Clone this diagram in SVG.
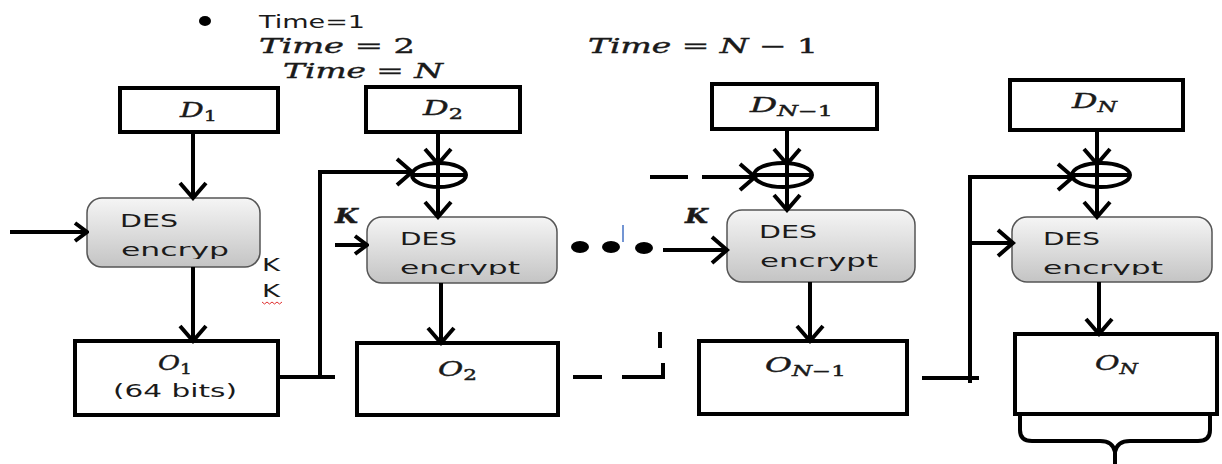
<svg xmlns="http://www.w3.org/2000/svg" width="1222" height="464" viewBox="0 0 1222 464">
<style>
.box{fill:#fff;stroke:#000;stroke-width:4}
.des{fill:url(#gr);stroke:#555;stroke-width:1.5}
.ln{stroke:#000;stroke-width:4;fill:none}
.a{marker-end:url(#ah)}
.as{marker-end:url(#ahs)}
.sans{font-family:"DejaVu Sans","Liberation Sans",sans-serif;font-size:18px;fill:#1a1a1a}
.math{font-family:"DejaVu Serif","Liberation Serif",serif;font-size:20px;fill:#1a1a1a;stroke:#1a1a1a;stroke-width:0.4}
.it{font-style:italic}
.sub{font-size:14px}
</style>
<defs>
<linearGradient id="gr" x1="0" y1="0" x2="0" y2="1">
<stop offset="0" stop-color="#f5f5f5"/>
<stop offset="1" stop-color="#c4c4c4"/>
</linearGradient>
<marker id="ah" viewBox="0 0 20 30" markerWidth="20" markerHeight="30" refX="17" refY="15" orient="auto" markerUnits="userSpaceOnUse">
<path d="M2,2 L17,15 L2,28" fill="none" stroke="#000" stroke-width="4"/>
</marker>
<marker id="ahs" viewBox="0 0 16 22" markerWidth="16" markerHeight="22" refX="14" refY="11" orient="auto" markerUnits="userSpaceOnUse">
<path d="M2,2 L14,11 L2,20" fill="none" stroke="#000" stroke-width="4"/>
</marker>
<clipPath id="c1"><rect x="87" y="198" width="173" height="61"/></clipPath>
<clipPath id="c2"><rect x="367" y="217" width="190" height="58"/></clipPath>
<clipPath id="c3"><rect x="727" y="210" width="188" height="72" rx="15"/></clipPath>
<clipPath id="c4"><rect x="1012" y="217" width="200" height="58"/></clipPath>
</defs>

<g id="header">
<ellipse cx="205" cy="21" rx="6" ry="5" fill="#000"/>
<text class="sans" x="259" y="28" font-size="21" textLength="106" lengthAdjust="spacingAndGlyphs">Time=1</text>
<text class="math" x="259" y="53" font-size="22" textLength="156" lengthAdjust="spacingAndGlyphs"><tspan class="it">Time</tspan> = 2</text>
<text class="math" x="588" y="53" font-size="22" textLength="230" lengthAdjust="spacingAndGlyphs"><tspan class="it">Time</tspan> = <tspan class="it">N</tspan> − 1</text>
<text class="math" x="283" y="78" font-size="22" textLength="160" lengthAdjust="spacingAndGlyphs"><tspan class="it">Time</tspan> = <tspan class="it">N</tspan></text>
</g>

<g id="D1"><rect class="box" x="120" y="88" width="158" height="44"/>
<text class="math" x="180" y="117" textLength="37" lengthAdjust="spacingAndGlyphs"><tspan class="it">D</tspan><tspan class="sub" dy="4">1</tspan></text></g>
<g id="D2"><rect class="box" x="366" y="87" width="154" height="45"/>
<text class="math" x="423" y="115" textLength="40" lengthAdjust="spacingAndGlyphs"><tspan class="it">D</tspan><tspan class="sub" dy="4">2</tspan></text></g>
<g id="DN1"><rect class="box" x="712" y="84" width="165" height="45"/>
<text class="math" x="750" y="112" textLength="83" lengthAdjust="spacingAndGlyphs"><tspan class="it">D</tspan><tspan class="sub" dy="4"><tspan class="it">N</tspan>−1</tspan></text></g>
<g id="DN"><rect class="box" x="1010" y="80" width="173" height="50"/>
<text class="math" x="1072" y="108" textLength="45" lengthAdjust="spacingAndGlyphs"><tspan class="it">D</tspan><tspan class="sub it" dy="4">N</tspan></text></g>

<g id="DES1"><rect class="des" x="87" y="198" width="173" height="69" rx="15"/>
<g clip-path="url(#c1)"><text class="sans" x="120" y="227" textLength="58" lengthAdjust="spacingAndGlyphs">DES</text>
<text class="sans" x="121" y="256" textLength="108" lengthAdjust="spacingAndGlyphs">encryp</text></g></g>
<g id="DES2"><rect class="des" x="367" y="217" width="190" height="66" rx="15"/>
<g clip-path="url(#c2)"><text class="sans" x="400" y="245" textLength="57" lengthAdjust="spacingAndGlyphs">DES</text>
<text class="sans" x="400" y="274" textLength="120" lengthAdjust="spacingAndGlyphs">encrypt</text></g></g>
<g id="DESN1"><rect class="des" x="727" y="210" width="188" height="72" rx="15"/>
<g clip-path="url(#c3)"><text class="sans" x="759" y="238" textLength="58" lengthAdjust="spacingAndGlyphs">DES</text>
<text class="sans" x="760" y="267" textLength="118" lengthAdjust="spacingAndGlyphs">encrypt</text></g></g>
<g id="DESN"><rect class="des" x="1012" y="217" width="200" height="65" rx="15"/>
<g clip-path="url(#c4)"><text class="sans" x="1043" y="245" textLength="57" lengthAdjust="spacingAndGlyphs">DES</text>
<text class="sans" x="1043" y="274" textLength="120" lengthAdjust="spacingAndGlyphs">encrypt</text></g></g>

<g id="O1"><rect class="box" x="75" y="341" width="203" height="74"/>
<text class="math" x="158" y="370" textLength="34" lengthAdjust="spacingAndGlyphs"><tspan class="it">O</tspan><tspan class="sub" dy="4">1</tspan></text>
<text class="sans" x="113" y="397" textLength="124" lengthAdjust="spacingAndGlyphs">(64 bits)</text></g>
<g id="O2"><rect class="box" x="357" y="343" width="201" height="72"/>
<text class="math" x="438" y="376" textLength="39" lengthAdjust="spacingAndGlyphs"><tspan class="it">O</tspan><tspan class="sub" dy="4">2</tspan></text></g>
<g id="ON1"><rect class="box" x="699" y="341" width="208" height="73"/>
<text class="math" x="765" y="372" textLength="81" lengthAdjust="spacingAndGlyphs"><tspan class="it">O</tspan><tspan class="sub" dy="4"><tspan class="it">N</tspan>−1</tspan></text></g>
<g id="ON"><rect class="box" x="1015" y="334" width="202" height="80"/>
<text class="math" x="1095" y="370" textLength="43" lengthAdjust="spacingAndGlyphs"><tspan class="it">O</tspan><tspan class="sub it" dy="4">N</tspan></text></g>

<g id="xor2"><ellipse class="ln" cx="439" cy="175" rx="27" ry="12"/><line class="ln" x1="412" y1="175" x2="466" y2="175"/><line class="ln" x1="438" y1="163" x2="438" y2="187"/></g>
<g id="xorN1"><ellipse class="ln" cx="783" cy="175" rx="29" ry="12"/><line class="ln" x1="754" y1="175" x2="812" y2="175"/><line class="ln" x1="787" y1="163" x2="787" y2="187"/></g>
<g id="xorN"><ellipse class="ln" cx="1101" cy="175" rx="29" ry="12"/><line class="ln" x1="1072" y1="175" x2="1130" y2="175"/><line class="ln" x1="1097" y1="163" x2="1097" y2="187"/></g>

<g id="labels">
<text class="math it" x="335" y="223" font-size="19" font-weight="bold" textLength="23" lengthAdjust="spacingAndGlyphs">K</text>
<text class="math it" x="685" y="223" font-size="19" font-weight="bold" textLength="23" lengthAdjust="spacingAndGlyphs">K</text>
<text class="sans" x="262" y="271" textLength="18" lengthAdjust="spacingAndGlyphs">K</text>
<text class="sans" x="262" y="297" textLength="18" lengthAdjust="spacingAndGlyphs">K</text>
<path d="M262,302 l2.5,2 l2.5,-2 l2.5,2 l2.5,-2 l2.5,2 l2.5,-2 l2.5,2 l2.5,-2" fill="none" stroke="#e03030" stroke-width="1"/>
</g>

<g id="connectors">
<line class="ln as" x1="10" y1="232" x2="87" y2="232"/>
<line class="ln a" x1="193" y1="132" x2="193" y2="198"/>
<line class="ln a" x1="193" y1="267" x2="193" y2="341"/>
<line class="ln" x1="278" y1="377" x2="335" y2="377"/>
<polyline class="ln a" points="320,377 320,172 412,172"/>
<line class="ln a" x1="438" y1="132" x2="438" y2="164"/>
<line class="ln a" x1="438" y1="187" x2="438" y2="217"/>
<line class="ln as" x1="335" y1="245" x2="367" y2="245"/>
<line class="ln a" x1="441" y1="283" x2="441" y2="343"/>
<ellipse cx="580" cy="247" rx="9" ry="6" fill="#000"/>
<ellipse cx="611" cy="247" rx="9" ry="6" fill="#000"/>
<ellipse cx="644" cy="248" rx="9" ry="6" fill="#000"/>
<line x1="623" y1="225" x2="623" y2="242" stroke="#4472c4" stroke-width="1.5"/>
<line class="ln a" x1="663" y1="250" x2="727" y2="250"/>
<line class="ln" x1="650" y1="177" x2="688" y2="177"/>
<line class="ln a" x1="702" y1="177" x2="755" y2="177"/>
<line class="ln a" x1="787" y1="129" x2="787" y2="164"/>
<line class="ln a" x1="787" y1="187" x2="787" y2="210"/>
<line class="ln a" x1="810" y1="282" x2="810" y2="341"/>
<line class="ln" x1="573" y1="377" x2="602" y2="377"/>
<polyline class="ln" points="622,377 663,377 663,363"/>
<line class="ln" x1="660" y1="332" x2="660" y2="348"/>
<line class="ln" x1="922" y1="378" x2="979" y2="378"/>
<polyline class="ln a" points="970,383 970,177 1073,177"/>
<line class="ln a" x1="970" y1="243" x2="1013" y2="243"/>
<line class="ln a" x1="1097" y1="130" x2="1097" y2="164"/>
<line class="ln a" x1="1097" y1="187" x2="1097" y2="217"/>
<line class="ln a" x1="1099" y1="282" x2="1099" y2="334"/>
<path class="ln" stroke-width="5" d="M1020,413 V430 Q1020,441 1032,441 H1100 Q1113,441 1115,452 V464 M1210,413 V430 Q1210,441 1198,441 H1130 Q1117,441 1115,452"/>
</g>
</svg>
